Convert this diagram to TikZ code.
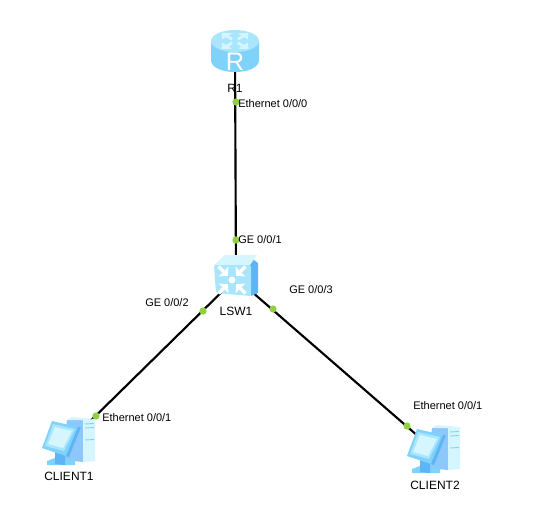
\documentclass[tikz,border=0pt]{standalone}
\usepackage{fontspec}
\setmainfont{Liberation Sans}
\definecolor{skyA}{HTML}{7FD3FB}
\definecolor{skyB}{HTML}{A9E6FE}
\definecolor{skyC}{HTML}{D6F6FF}
\definecolor{skyD}{HTML}{5FB4F5}
\definecolor{skyE}{HTML}{8CC8FB}
\definecolor{portgreen}{HTML}{8FD13F}
\tikzset{
  x=0.75pt,y=-0.75pt,
  link/.style={draw=black,line width=1.6pt},
  port/.style={circle,fill=portgreen,draw=none,minimum size=5.4pt,inner sep=0pt},
  lab/.style={font=\fontsize{8.25pt}{9pt}\selectfont,text=black,inner sep=0pt},
  devlab/.style={font=\fontsize{9pt}{10pt}\selectfont,text=black,inner sep=0pt},
  anchorpt/.style={inner sep=0pt,minimum size=0pt},
  pics/routericon/.style={code={
    \fill[skyA] (-24,-10) -- (-24,9) .. controls (-24,17) and (-12,21) .. (0,21) .. controls (12,21) and (24,17) .. (24,9) -- (24,-10) -- cycle;
    \fill[skyB] (0,-10) ellipse [x radius=24, y radius=11];
    \foreach \a in {0,90,180,270}{
      \begin{scope}[shift={(0,-10)},yscale=0.6,rotate=\a+45]
        \draw[skyC,line width=2pt] (4,0) -- (13,0);
        \fill[skyC] (19,0) -- (11,-7) -- (11,7) -- cycle;
      \end{scope}
    }
    \node[text=white,inner sep=0pt,font=\fontsize{19pt}{19pt}\selectfont] at (0,10.5) {R};
  }},
  pics/switchicon/.style={code={
    \fill[skyD] (14,-21) -- (22,-15) -- (22,15) -- (15,18) -- cycle;
    \fill[skyC] (-22,-13) -- (-11,-23) -- (21,-23) -- (14,-13) -- cycle;
    \fill[skyB,rounded corners=1.5pt] (-22,-13) -- (15,-13) -- (15,18) -- (-20,15) -- cycle;
    \begin{scope}[shift={(-4,2)}]
      \fill[white] (0,0) circle[radius=3.4];
      \foreach \a in {45,135,225,315}{
        \begin{scope}[rotate=\a]
          \draw[white,line width=2.4pt] (9,0) -- (19,0);
          \fill[white] (6,0) -- (12,-7) -- (12,7) -- cycle;
        \end{scope}
      }
    \end{scope}
  }},
  pics/pcicon/.style={code={
    % tower
    \fill[skyE] (-2,-22) -- (14,-22) -- (14,20) -- (-6,18) -- cycle;
    \fill[skyC] (-2,-22) -- (3,-25) -- (26,-23) -- (14,-22) -- cycle;
    \fill[skyC] (14,-22) -- (26,-23) -- (26,19) -- (14,20) -- cycle;
    \draw[skyA,line width=0.7pt] (16,-18) -- (25,-18.5) (16,-14) -- (25,-14.5) (16,-2) -- (25,-2.5);
    % stand and base
    \fill[skyA] (-22,19) -- (-14,16) -- (-4,16) -- (6,19) -- (6,23) -- (-22,23) -- cycle;
    \fill[skyD] (-14,10) -- (-4,12) -- (-4,23) -- (-14,22) -- cycle;
    % screen
    \fill[skyA] (-17,-21) -- (9,-15) -- (-3,14) -- (-27,6) -- cycle;
    \fill[skyD] (9,-15) -- (12,-15) -- (0,15) -- (-3,14) -- cycle;
    \fill[skyB] (-16,-18) -- (6,-13) -- (-5,9) -- (-24,4) -- cycle;
    \fill[skyC] (-14,-15) -- (3,-11) -- (-6,6) -- (-21,2) -- cycle;
  }}
}
\begin{document}
\begin{tikzpicture}
\useasboundingbox (0,0) rectangle (543,526);
\fill[white] (0,0) rectangle (543,526);
% anchor nodes of the devices
\node[anchorpt] (R1) at (235,51) {};
\node[anchorpt] (LSW1) at (236,278) {};
\node[anchorpt] (C1) at (69,442) {};
\node[anchorpt] (C2) at (434,450) {};
% connectors
\draw[link] (R1.center) -- (LSW1.center);
\draw[link] (LSW1.center) -- (C1.center);
\draw[link] (LSW1.center) -- (C2.center);
% icons
\pic at (R1) {routericon};
\pic at (LSW1) {switchicon};
\pic at (C1) {pcicon};
\pic at (C2) {pcicon};
% ports
\node[port] (p1) at (236,102) {};
\node[port] (p2) at (236,240) {};
\node[port] (p3) at (203,311) {};
\node[port] (p4) at (273,309) {};
\node[port] (p5) at (96,416) {};
\node[port] (p6) at (407,426) {};
% labels
\node[devlab] (lR) at (235,88) {R1};
\node[devlab] (lS) at (236,311) {LSW1};
\node[devlab] (lC1) at (69,476) {CLIENT1};
\node[devlab] (lC2) at (435,485) {CLIENT2};
\node[lab,anchor=west] (t1) at (238,104) {Ethernet 0/0/0};
\node[lab,anchor=west] (t2) at (238,240) {GE 0/0/1};
\node[lab,anchor=west] (t3) at (145,303) {GE 0/0/2};
\node[lab,anchor=west] (t4) at (289,290) {GE 0/0/3};
\node[lab,anchor=west] (t5) at (102,418) {Ethernet 0/0/1};
\node[lab,anchor=west] (t6) at (413,406) {Ethernet 0/0/1};
\end{tikzpicture}
\end{document}
